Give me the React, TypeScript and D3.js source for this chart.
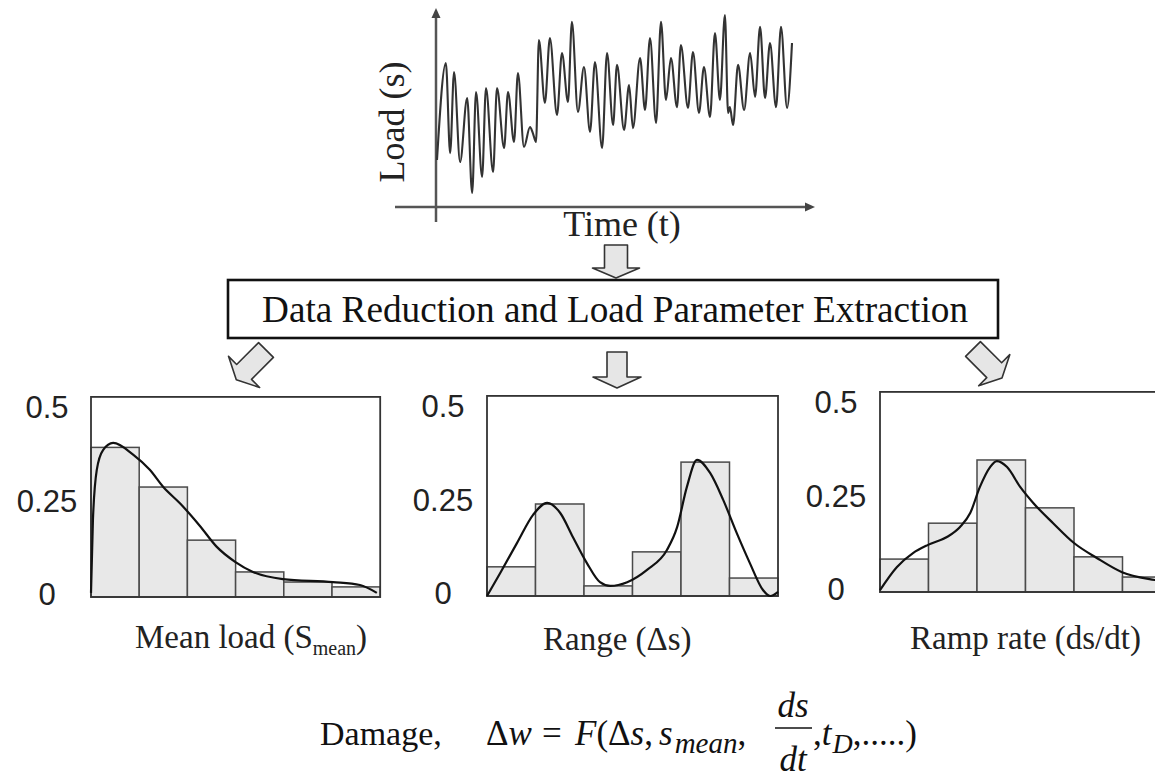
import React from "react";
import * as d3 from "d3";

// ---------- data ----------
const loadTime = [0, 2.5, 3.7, 4.8, 6.5, 8.5, 9.9, 11.0, 12.7, 13.8, 15.8, 16.9, 18.9, 20.0, 21.7, 22.8, 24.5, 26.2, 27.0, 27.9, 28.7, 30.4, 31.8, 33.8, 35.2, 36.9, 38.0, 39.7, 41.4, 43.1, 44.5, 46.5, 47.9, 49.6, 50.7, 52.7, 54.1, 55.2, 57.2, 58.6, 60.0, 61.7, 63.1, 64.5, 65.9, 67.6, 68.7, 70.7, 72.1, 73.8, 75.2, 76.9, 78.3, 79.7, 81.1, 82.0, 82.5, 83.4, 84.8, 86.5, 88.2, 89.6, 91.0, 92.4, 93.8, 95.5, 96.9, 98.6, 100];
const loadValue = [2.45, 7.5, 2.8, 7.03, 2.34, 5.68, 0.73, 5.99, 1.56, 6.2, 1.82, 6.2, 3.07, 5.99, 3.39, 6.98, 3.13, 4.17, 3.85, 3.39, 8.7, 5.42, 8.8, 4.79, 8.02, 5.47, 9.64, 4.95, 7.29, 3.91, 7.55, 3.07, 8.02, 4.27, 7.4, 4.01, 6.35, 4.11, 7.76, 5.05, 8.8, 4.38, 9.64, 5.57, 7.76, 5.2, 8.44, 5.16, 8.07, 4.9, 7.29, 4.69, 9.06, 5.57, 10, 4.9, 5.2, 4.27, 7.4, 5.05, 8.02, 5.73, 9.38, 5.68, 8.54, 5.2, 9.38, 5.16, 8.54];

const meanLoadBars = [0.40, 0.294, 0.152, 0.067, 0.04, 0.027];
const meanLoadCurveX = [0, 0.04, 0.12, 0.25, 0.46, 0.88, 1.22, 1.5, 1.85, 2.26, 2.61, 2.99, 3.36, 3.98, 5.02, 5.58, 5.93];
const meanLoadCurveY = [0.011, 0.206, 0.34, 0.393, 0.412, 0.38, 0.34, 0.294, 0.25, 0.19, 0.134, 0.094, 0.067, 0.048, 0.04, 0.032, 0.011];

const rangeBars = [0.078, 0.246, 0.027, 0.118, 0.358, 0.048];
const rangeCurveX = [0, 0.27, 0.62, 0.95, 1.24, 1.51, 1.77, 2.06, 2.33, 2.54, 2.89, 3.3, 3.71, 3.92, 4.12, 4.33, 4.6, 4.87, 5.15, 5.42, 5.69, 5.84, 6.0];
const rangeCurveY = [0, 0.061, 0.142, 0.217, 0.249, 0.222, 0.158, 0.088, 0.037, 0.027, 0.037, 0.07, 0.123, 0.184, 0.291, 0.364, 0.329, 0.257, 0.168, 0.088, 0.016, 0.0, 0.011];

const rampBars = [0.088, 0.184, 0.353, 0.225, 0.094, 0.04];
const rampCurveX = [0, 0.35, 0.68, 0.99, 1.38, 1.65, 1.86, 2.06, 2.27, 2.41, 2.62, 2.89, 3.16, 3.57, 4.0, 4.47, 4.99, 5.67, 6.0];
const rampCurveY = [0.005, 0.067, 0.104, 0.126, 0.147, 0.174, 0.211, 0.281, 0.334, 0.35, 0.334, 0.281, 0.238, 0.184, 0.131, 0.091, 0.053, 0.032, 0.025];

const yTicks = [0, 0.25, 0.5];
const yTickLabels = ["0", "0.25", "0.5"];

const SERIF = "'Liberation Serif', 'Times New Roman', 'DejaVu Serif', serif";
const SANS = "'Liberation Sans', Arial, 'DejaVu Sans', sans-serif";

function arrowPath(L: number, H: number, sh: number, hh: number) {
  const p = d3.path();
  p.moveTo(-sh, 0);
  p.lineTo(sh, 0);
  p.lineTo(sh, L);
  p.lineTo(hh, L);
  p.lineTo(0, L + H);
  p.lineTo(-hh, L);
  p.lineTo(-sh, L);
  p.closePath();
  return p.toString();
}

function BlockArrow({ x, y, angle, L, H, sh, hh }: any) {
  return (
    <path
      d={arrowPath(L, H, sh, hh)}
      transform={`translate(${x},${y}) rotate(${angle})`}
      fill="#e6e6e6"
      stroke="#333"
      strokeWidth={1.6}
      strokeLinejoin="round"
    />
  );
}

function Histogram({ left, bottom, bw, bars, cx, cy, label }: any) {
  const x = d3.scaleLinear().domain([0, 6]).range([left, left + 6 * bw]);
  const y = d3.scaleLinear().domain([0, 0.5]).range([bottom, bottom - 187]);
  const line = d3
    .line<number>()
    .x((_, i) => x(cx[i]))
    .y((d) => y(d))
    .curve(d3.curveMonotoneX);
  return (
    <g>
      {bars.map((v: number, i: number) => (
        <rect
          key={i}
          x={x(i)}
          y={y(v)}
          width={x(i + 1) - x(i)}
          height={y(0) - y(v)}
          fill="#e8e8e8"
          stroke="#4a4a4a"
          strokeWidth={1.5}
        />
      ))}
      <rect
        x={x(0)}
        y={y(0.535)}
        width={x(6) - x(0)}
        height={y(0) - y(0.535)}
        fill="none"
        stroke="#333"
        strokeWidth={1.8}
      />
      <path d={line(cy) || ""} fill="none" stroke="#111" strokeWidth={2.2} />
      {yTicks.map((t, i) => (
        <text
          key={i}
          x={left - 44}
          y={y(t) + 8}
          textAnchor="middle"
          fontFamily={SANS}
          fontSize={31}
          fill="#222"
        >
          {yTickLabels[i]}
        </text>
      ))}
      {label}
    </g>
  );
}

export default function App() {
  const tx = d3.scaleLinear().domain([0, 100]).range([437, 792]);
  const ty = d3.scaleLinear().domain([0, 10]).range([207, 15]);
  const signal = d3
    .line<number>()
    .x((_, i) => tx(loadTime[i]))
    .y((d) => ty(d))
    .curve(d3.curveMonotoneX);

  return (
    <svg width={1155} height={778} style={{ position: "absolute", left: 0, top: 0, background: "#fff" }}>
      <rect x={0} y={0} width={1155} height={778} fill="#fff" />
      {/* top load chart */}
      <line x1={436} y1={222} x2={436} y2={14} stroke="#555" strokeWidth={2.5} />
      <path d="M436,8 L431.5,18 L440.5,18 Z" fill="#444" />
      <line x1={395} y1={ty(0)} x2={808} y2={ty(0)} stroke="#555" strokeWidth={2.5} />
      <path d={`M815,${ty(0)} L805,${ty(0) - 4.5} L805,${ty(0) + 4.5} Z`} fill="#444" />
      <path d={signal(loadValue) || ""} fill="none" stroke="#333" strokeWidth={2.1} strokeLinejoin="round" />
      <text
        transform="translate(404,122) rotate(-90)"
        textAnchor="middle"
        fontFamily={SERIF}
        fontSize={36}
        fill="#222"
      >
        Load (s)
      </text>
      <text x={622} y={236} textAnchor="middle" fontFamily={SERIF} fontSize={36} fill="#222">
        Time (t)
      </text>

      {/* arrows */}
      <BlockArrow x={616} y={245} angle={0} L={23} H={10} sh={11.5} hh={23.5} />
      <BlockArrow x={617} y={352} angle={0} L={25} H={11} sh={10} hh={24} />
      <BlockArrow x={266} y={350} angle={45} L={31} H={11} sh={10.5} hh={22} />
      <BlockArrow x={973} y={349} angle={-45} L={30} H={11} sh={10.5} hh={22} />

      {/* box */}
      <rect x={228} y={280} width={770} height={58} fill="#fff" stroke="#111" strokeWidth={2.6} />
      <text
        x={262}
        y={322}
        fontFamily={SERIF}
        fontSize={37}
        textLength={706}
        lengthAdjust="spacingAndGlyphs"
        fill="#111"
      >
        Data Reduction and Load Parameter Extraction
      </text>

      {/* histograms */}
      <Histogram
        left={91}
        bottom={597}
        bw={48.2}
        bars={meanLoadBars}
        cx={meanLoadCurveX}
        cy={meanLoadCurveY}
        label={
          <text x={135} y={648} fontFamily={SERIF} fontSize={33} fill="#222">
            Mean load (S
            <tspan fontSize={20} dy={7}>mean</tspan>
            <tspan dy={-7}>)</tspan>
          </text>
        }
      />
      <Histogram
        left={487}
        bottom={596}
        bw={48.5}
        bars={rangeBars}
        cx={rangeCurveX}
        cy={rangeCurveY}
        label={
          <text x={543} y={650} fontFamily={SERIF} fontSize={33} fill="#222">
            Range (Δs)
          </text>
        }
      />
      <Histogram
        left={880}
        bottom={592}
        bw={48.5}
        bars={rampBars}
        cx={rampCurveX}
        cy={rampCurveY}
        label={
          <text x={910} y={649} fontFamily={SERIF} fontSize={33} fill="#222">
            Ramp rate (ds/dt)
          </text>
        }
      />

      {/* formula */}
      <g fontFamily={SERIF} fill="#111" fontSize={35}>
        <text x={320} y={745} fontSize={34}>Damage,</text>
        <text x={486} y={745}>
          Δ<tspan fontStyle="italic">w</tspan>
        </text>
        <text x={542} y={745}>=</text>
        <text x={575} y={745}>
          <tspan fontStyle="italic">F</tspan>(Δ<tspan fontStyle="italic">s</tspan>,
        </text>
        <text x={659} y={745}>
          <tspan fontStyle="italic">s</tspan>
          <tspan fontStyle="italic" fontSize={29} dy={8} dx={2}>mean</tspan>
          <tspan dy={-8}>,</tspan>
        </text>
        <text x={793} y={717} textAnchor="middle" fontStyle="italic">ds</text>
        <line x1={775} y1={728} x2={812} y2={728} stroke="#111" strokeWidth={1.6} />
        <text x={793} y={771} textAnchor="middle" fontStyle="italic">dt</text>
        <text x={813} y={745}>
          ,<tspan fontStyle="italic">t</tspan>
          <tspan fontStyle="italic" fontSize={28} dy={8} dx={1}>D</tspan>
          <tspan dy={-8}>,.....)</tspan>
        </text>
      </g>
    </svg>
  );
}
